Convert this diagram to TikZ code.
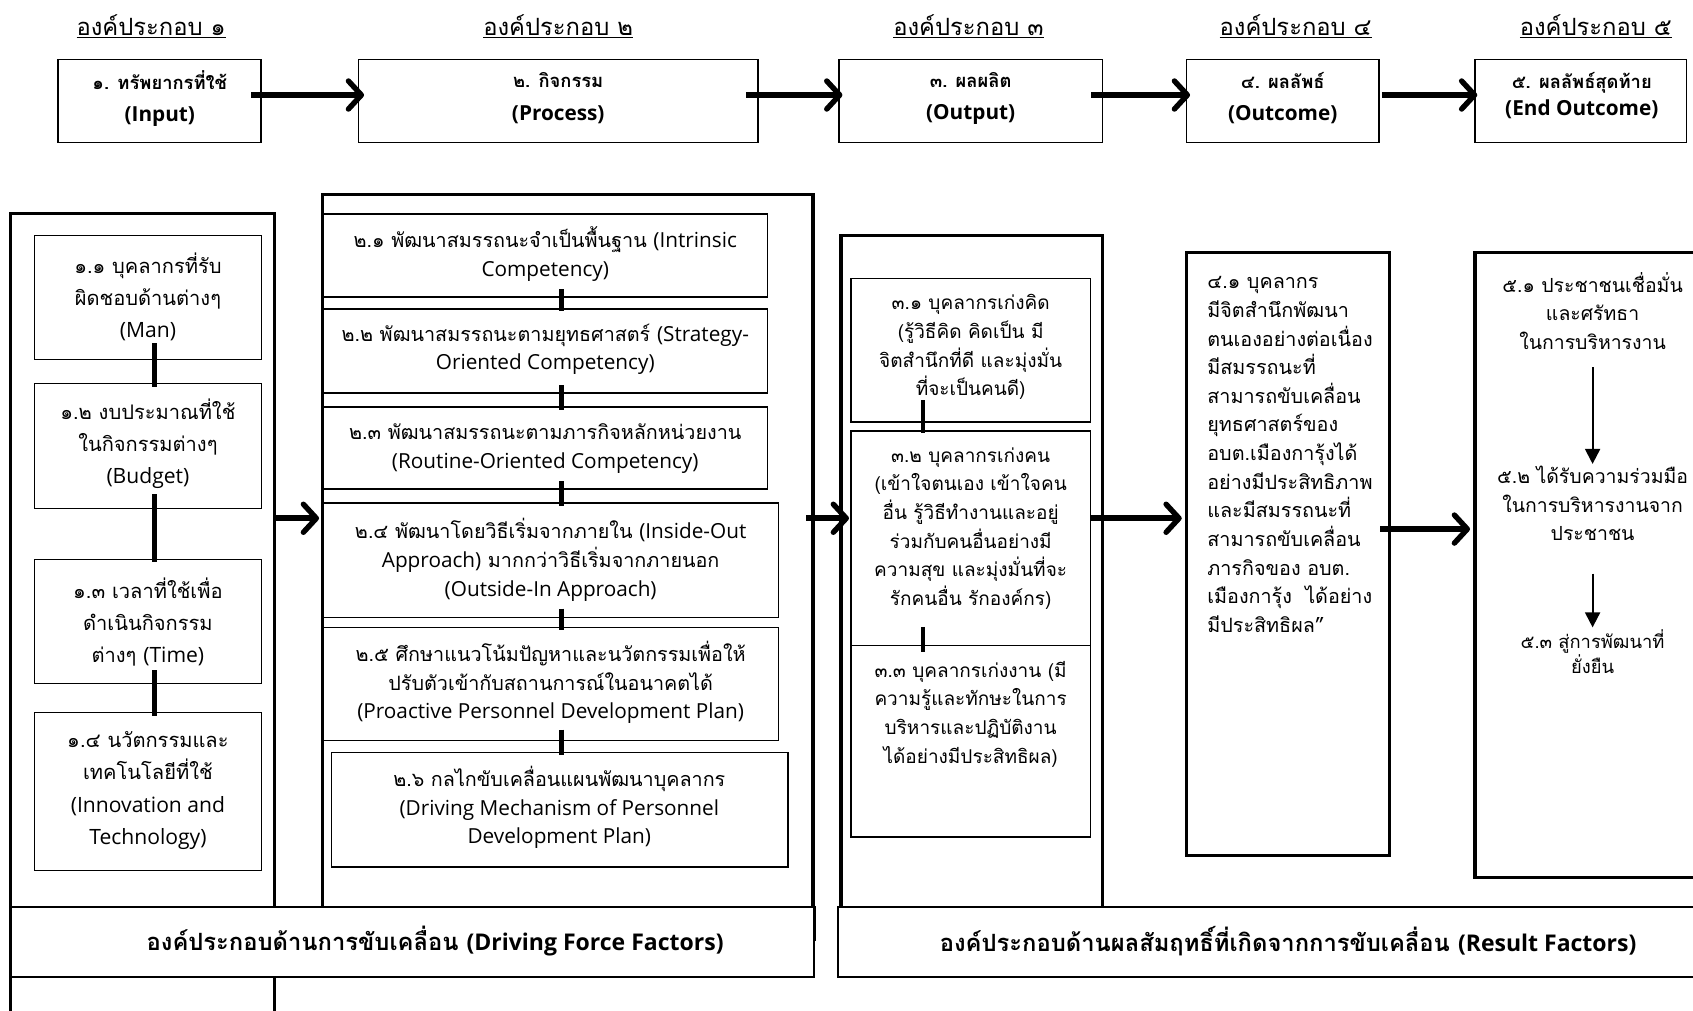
\documentclass[tikz,border=0pt]{standalone}
\usepackage{fontspec}
\usepackage{graphicx}
\setmainfont[Script=Thai]{Loma}
\newfontfamily\latnfont[Scale=1.05]{Open Sans}
\newcommand\latn[1]{{\latnfont #1}}
\newcommand\lattop[1]{{\latnfont\fontsize{18.3}{30}\selectfont #1}}
\newcommand\latbar[1]{{\latnfont\fontsize{20.3}{26}\selectfont #1}}
\usetikzlibrary{arrows.meta,calc,fit}
\begin{document}
\begin{tikzpicture}[x=1pt,y=-1pt,
  boxthin/.style={draw, line width=1.4pt, inner sep=0pt, fill=none},
  boxthick/.style={draw, line width=3pt, inner sep=0pt},
  topbox/.style={draw, line width=1.6pt, inner sep=0pt},
  bar/.style={draw, line width=1.4pt, inner sep=0pt, fill=white},
  txt/.style={font=\fontsize{18.3}{26.5}\selectfont, align=center, inner sep=0pt},
  txtA/.style={font=\fontsize{18.6}{30}\selectfont, align=center, inner sep=0pt},
  toptxt/.style={font=\fontsize{17}{30}\selectfont\bfseries, align=center, inner sep=0pt},
  head/.style={font=\fontsize{22}{26}\selectfont, inner sep=0pt},
  bartxt/.style={font=\fontsize{22}{26}\selectfont\bfseries, inner sep=0pt},
  conn/.style={line width=5pt},
  bigarrow/.style={line width=5.5pt, -{Straight Barb[length=12pt,width=26pt,line width=5pt,round]}},
  thinarrow/.style={line width=1.8pt, -{Triangle[length=14pt,width=14pt]}}
]
\useasboundingbox (0,0) rectangle (1568,936);
\clip (0,0) rectangle (1568,936);
\fill[white] (0,0) rectangle (1568,936);

% headers
\node[head] (h1) at (140,24) {\underline{องค์ประกอบ ๑}};
\node[head] (h2) at (517,24) {\underline{องค์ประกอบ ๒}};
\node[head] (h3) at (897,24) {\underline{องค์ประกอบ ๓}};
\node[head] (h4) at (1200,24) {\underline{องค์ประกอบ ๔}};
\node[head] (h5) at (1478,24) {\underline{องค์ประกอบ ๕}};

% top boxes
\node[topbox, fit={(54,55) (242,132)}] (t1) {};
\node[topbox, fit={(332,55) (702,132)}] (t2) {};
\node[topbox, fit={(777,55) (1021,132)}] (t3) {};
\node[topbox, fit={(1099,55) (1277,132)}] (t4) {};
\node[topbox, fit={(1366,55) (1562,132)}] (t5) {};
\node[toptxt] (tt1) at (148,91) {๑. ทรัพยากรที่ใช้\\\lattop{(Input)}};
\node[toptxt] (tt2) at (517,91) {๒. กิจกรรม\\\lattop{(Process)}};
\node[toptxt] (tt3) at (899,91) {๓. ผลผลิต\\\lattop{(Output)}};
\node[toptxt] (tt4) at (1188,91) {๔. ผลลัพธ์\\\lattop{(Outcome)}};
\node[toptxt, font=\fontsize{17}{25}\selectfont\bfseries] (tt5) at (1465,88.5) {๕. ผลลัพธ์สุดท้าย\\\lattop{(End Outcome)}};

\coordinate (ty) at (0,88);
\draw[bigarrow] ($(t1.east|-ty)+(-10,0)$) -- ($(t2.west|-ty)+(6,0)$);
\draw[bigarrow] ($(t2.east|-ty)+(-12,0)$) -- ($(t3.west|-ty)+(4,0)$);
\draw[bigarrow] ($(t3.east|-ty)+(-11,0)$) -- ($(t4.west|-ty)+(4,0)$);
\draw[bigarrow] ($(t4.east|-ty)+(2,0)$) -- ($(t5.west|-ty)+(3,0)$);

% outer columns
\node[boxthick, fit={(10,198) (254,960)}] (c1) {};
\node[boxthick, fit={(299,180) (753,870)}] (c2) {};
\node[boxthick, fit={(779,218) (1021,860)}] (c3) {};
\node[boxthick, fit={(1099,234) (1287,792)}] (b41) {};
\node[boxthick, fit={(1366,234) (1620,813)}] (b5) {};

% column 1
\node[boxthin, fit={(32,218) (242,333)}] (b11) {};
\node[boxthin, fit={(32,355) (242,471)}] (b12) {};
\node[boxthin, fit={(32,518) (242,633)}] (b13) {};
\node[boxthin, fit={(32,660) (242,806)}] (b14) {};
\node[txtA] (x11) at (137,275) {๑.๑ บุคลากรที่รับ\\ผิดชอบด้านต่างๆ\\\latn{(Man)}};
\node[txtA] (x12) at (137,411) {๑.๒ งบประมาณที่ใช้\\ในกิจกรรมต่างๆ\\\latn{(Budget)}};
\node[txtA] (x13) at (137,576) {๑.๓ เวลาที่ใช้เพื่อ\\ดำเนินกิจกรรม\\ต่างๆ \latn{(Time)}};
\node[txtA] (x14) at (137,732) {๑.๔ นวัตกรรมและ\\เทคโนโลยีที่ใช้\\\latn{(Innovation and}\\\latn{Technology)}};
\draw[conn] ($(b11.south)+(6,-16)$) -- ($(b12.north)+(6,4)$);
\draw[conn] ($(b12.south)+(6,-14)$) -- ($(b13.north)+(6,3)$);
\draw[conn] ($(b13.south)+(6,-13)$) -- ($(b14.north)+(6,4)$);

% column 2
\node[boxthin, fit={(299,198) (711,275)}] (b21) {};
\node[boxthin, fit={(299,286) (711,364)}] (b22) {};
\node[boxthin, fit={(299,377) (711,453)}] (b23) {};
\node[boxthin, fit={(299,466) (721,572)}] (b24) {};
\node[boxthin, fit={(299,581) (721,686)}] (b25) {};
\node[boxthin, fit={(307,697) (730,803)}] (b26) {};
\node[txt] (x21) at (505,235.5) {๒.๑ พัฒนาสมรรถนะจำเป็นพื้นฐาน \latn{(Intrinsic}\\\latn{Competency)}};
\node[txt] (x22) at (505,323.5) {๒.๒ พัฒนาสมรรถนะตามยุทธศาสตร์ \latn{(Strategy-}\\\latn{Oriented Competency)}};
\node[txt] (x23) at (505,415.5) {๒.๓ พัฒนาสมรรถนะตามภารกิจหลักหน่วยงาน\\\latn{(Routine-Oriented Competency)}};
\node[txt] (x24) at (510,518.5) {๒.๔ พัฒนาโดยวิธีเริ่มจากภายใน \latn{(Inside-Out}\\\latn{Approach)} มากกว่าวิธีเริ่มจากภายนอก\\\latn{(Outside-In Approach)}};
\node[txt] (x25) at (510,632) {๒.๕ ศึกษาแนวโน้มปัญหาและนวัตกรรมเพื่อให้\\ปรับตัวเข้ากับสถานการณ์ในอนาคตได้\\\latn{(Proactive Personnel Development Plan)}};
\node[txt] (x26) at (518,748) {๒.๖ กลไกขับเคลื่อนแผนพัฒนาบุคลากร\\\latn{(Driving Mechanism of Personnel}\\\latn{Development Plan)}};
\draw[conn] ($(b21.south)+(15,-8)$) -- ($(b22.north)+(15,3)$);
\draw[conn] ($(b22.south)+(15,-8)$) -- ($(b23.north)+(15,3)$);
\draw[conn] ($(b23.south)+(15,-8)$) -- ($(b24.north)+(10,3)$);
\draw[conn] ($(b24.south)+(10,-9)$) -- ($(b25.north)+(10,3)$);
\draw[conn] ($(b25.south)+(10,-11)$) -- ($(b26.north)+(1.5,3)$);

% column 3
\node[boxthin, fit={(788,258) (1010,391)}] (b31) {};
\node[boxthin, fit={(788,399) (1010,598)}] (b32) {};
\node[boxthin, fit={(788,598) (1010,775)}] (b33) {};
\node[txt, font=\fontsize{17.6}{26.5}\selectfont] (x31) at (899,321.5) {๓.๑ บุคลากรเก่งคิด\\(รู้วิธีคิด คิดเป็น มี\\จิตสำนึกที่ดี และมุ่งมั่น\\ที่จะเป็นคนดี)};
\node[txt, font=\fontsize{17.6}{26.5}\selectfont] (x32) at (899,489.5) {๓.๒ บุคลากรเก่งคน\\(เข้าใจตนเอง เข้าใจคน\\อื่น รู้วิธีทำงานและอยู่\\ร่วมกับคนอื่นอย่างมี\\ความสุข และมุ่งมั่นที่จะ\\รักคนอื่น รักองค์กร)};
\node[txt, font=\fontsize{17.6}{26.5}\selectfont] (x33) at (899,661.5) {๓.๓ บุคลากรเก่งงาน (มี\\ความรู้และทักษะในการ\\บริหารและปฏิบัติงาน\\ได้อย่างมีประสิทธิผล)};
\draw[line width=4pt] ($(b31.south)+(-44,-21)$) -- ($(b32.north)+(-44,3)$);
\draw[line width=4pt] ($(b32.south)+(-44,-18)$) -- ($(b33.north)+(-44,7)$);

% box 4.1
\node[txt, align=left, anchor=west] (x41) at (1118,421) {๔.๑ บุคลากร\\มีจิตสำนึกพัฒนา\\ตนเองอย่างต่อเนื่อง\\มีสมรรถนะที่\\สามารถขับเคลื่อน\\ยุทธศาสตร์ของ\\อบต.เมืองการุ้งได้\\อย่างมีประสิทธิภาพ\\และมีสมรรถนะที่\\สามารถขับเคลื่อน\\ภารกิจของ อบต.\\เมืองการุ้ง~ ได้อย่าง\\มีประสิทธิผล”};

% box 5
\node[txt, font=\fontsize{18}{26.5}\selectfont] (x51) at (1475,288) {๕.๑ ประชาชนเชื่อมั่น\\และศรัทธา\\ในการบริหารงาน};
\node[txt, font=\fontsize{18}{26.5}\selectfont] (x52) at (1475,466.5) {๕.๒ ได้รับความร่วมมือ\\ในการบริหารงานจาก\\ประชาชน};
\node[txt, font=\fontsize{17}{21}\selectfont] (x53) at (1475,603.5) {๕.๓ สู่การพัฒนาที่\\ยั่งยืน};
\draw[thinarrow] ($(x51.south)+(0,16)$) -- ($(x52.north)+(0,-2)$);
\draw[thinarrow] ($(x52.south)+(0,30)$) -- ($(x53.north)+(0,-2)$);

% big arrows
\coordinate (ay) at (0,480);
\coordinate (ay2) at (0,490);
\draw[bigarrow] (c1.east|-ay) -- ($(c2.west|-ay)+(-2,0)$);
\draw[bigarrow] ($(c2.east|-ay)+(-8,0)$) -- ($(b32.west|-ay)+(-1,0)$);
\draw[bigarrow] (b32.east|-ay) -- ($(b41.west|-ay)+(-3,0)$);
\draw[bigarrow] ($(b41.east|-ay2)+(-10,0)$) -- ($(b5.west|-ay2)+(-3,0)$);

% bars
\node[bar, fit={(10,840) (754,905)}] (bar1) {};
\node[bar, fit={(776,840) (1620,905)}] (bar2) {};
\draw[line width=3pt] (c2.east|-bar1.north) -- (c2.south east);
\node[bartxt] (bt1) at (403,872) {องค์ประกอบด้านการขับเคลื่อน \latbar{(Driving Force Factors)}};
\node[bartxt] (bt2) at (1193,872) {องค์ประกอบด้านผลสัมฤทธิ์ที่เกิดจากการขับเคลื่อน \latbar{(Result Factors)}};
\end{tikzpicture}
\end{document}
